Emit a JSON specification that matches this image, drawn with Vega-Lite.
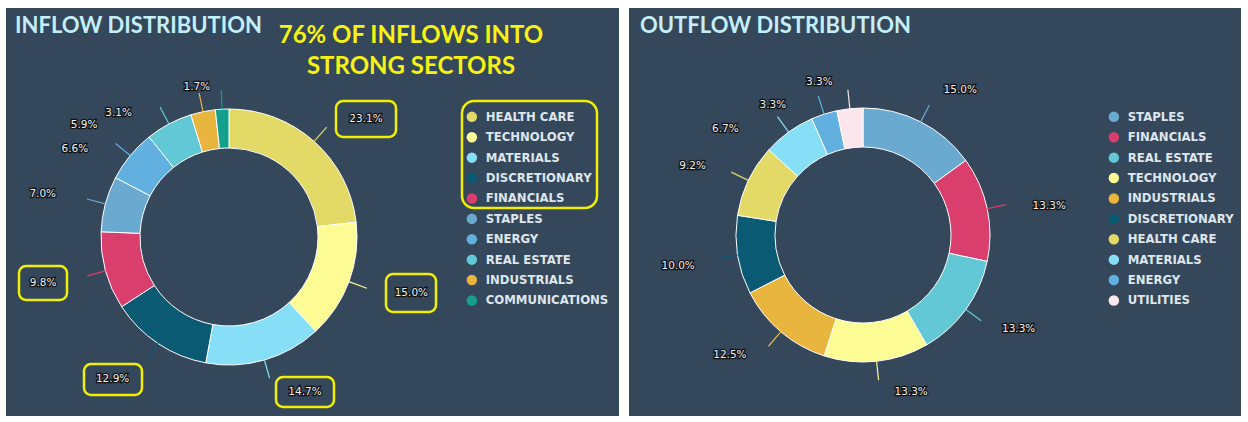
{
  "$schema": "https://vega.github.io/schema/vega-lite/v6.json",
  "background": "#ffffff",
  "padding": {"left": 6, "top": 8, "right": 0, "bottom": 0},
  "spacing": 10,
  "config": {"view": {"stroke": null}},
  "resolve": {"scale": {"color": "independent", "stroke": "independent", "theta": "independent"}, "legend": {"color": "independent"}},
  "hconcat": [
    {
      "width": 613,
      "height": 408,
      "data": {"values": [
        {"sector": "HEALTH CARE", "share": 0.231, "i": 1},
        {"sector": "TECHNOLOGY", "share": 0.150, "i": 2},
        {"sector": "MATERIALS", "share": 0.147, "i": 3},
        {"sector": "DISCRETIONARY", "share": 0.129, "i": 4},
        {"sector": "FINANCIALS", "share": 0.098, "i": 5},
        {"sector": "STAPLES", "share": 0.070, "i": 6},
        {"sector": "ENERGY", "share": 0.066, "i": 7},
        {"sector": "REAL ESTATE", "share": 0.059, "i": 8},
        {"sector": "INDUSTRIALS", "share": 0.031, "i": 9},
        {"sector": "COMMUNICATIONS", "share": 0.017, "i": 10}
      ]},
      "layer": [
        {
          "data": {"values": [{"panel": "inflow"}]},
          "mark": {"type": "rect", "color": "#34475b"},
          "encoding": {"x": {"value": 0}, "x2": {"value": "width"}, "y": {"value": 0}, "y2": {"value": "height"}}
        },
        {
          "mark": {"type": "arc", "outerRadius": 128, "innerRadius": 89, "x": 223, "y": 229, "stroke": "#ffffff", "strokeWidth": 1},
          "encoding": {
            "theta": {"field": "share", "type": "quantitative", "stack": true},
            "order": {"field": "i", "type": "quantitative"},
            "color": {
              "field": "sector", "type": "nominal",
              "scale": {
                "domain": ["HEALTH CARE", "TECHNOLOGY", "MATERIALS", "DISCRETIONARY", "FINANCIALS", "STAPLES", "ENERGY", "REAL ESTATE", "INDUSTRIALS", "COMMUNICATIONS"],
                "range": ["#e2d966", "#fdfb94", "#86dff6", "#0a5a74", "#d93e6c", "#6aaad0", "#62b0df", "#62c8d6", "#e8b53e", "#14a08d"]
              },
              "legend": {"orient": "none", "legendX": 460, "legendY": 103, "title": null, "symbolType": "circle", "symbolSize": 110, "symbolStrokeWidth": 0, "labelColor": "#dfe5ec", "labelFont": "DejaVu Sans", "labelFontSize": 11.7, "labelFontWeight": "bold", "rowPadding": 7.4, "labelOffset": 8}
            }
          }
        },
        {
          "mark": {"type": "arc", "fill": null, "padAngle": 3, "innerRadius": 128, "outerRadius": 147, "x": 223, "y": 229, "strokeWidth": 1.2},
          "encoding": {
            "theta": {"field": "share", "type": "quantitative", "stack": true},
            "order": {"field": "i", "type": "quantitative"},
            "stroke": {
              "field": "sector", "type": "nominal", "legend": null,
              "scale": {
                "domain": ["HEALTH CARE", "TECHNOLOGY", "MATERIALS", "DISCRETIONARY", "FINANCIALS", "STAPLES", "ENERGY", "REAL ESTATE", "INDUSTRIALS", "COMMUNICATIONS"],
                "range": ["#e2d966", "#fdfb94", "#86dff6", "#0a5a74", "#d93e6c", "#6aaad0", "#62b0df", "#62c8d6", "#e8b53e", "#14a08d"]
              }
            }
          }
        },
        {
          "data": {"values": [{"note": "HEALTH CARE"}]},
          "mark": {"type": "rect", "x": 330, "x2": 390, "y": 93, "y2": 129, "fillOpacity": 0, "stroke": "#f2ef00", "strokeWidth": 2.5, "cornerRadius": 7},
          "encoding": {}
        },
        {
          "data": {"values": [{"note": "TECHNOLOGY"}]},
          "mark": {"type": "rect", "x": 380, "x2": 430, "y": 266, "y2": 304, "fillOpacity": 0, "stroke": "#f2ef00", "strokeWidth": 2.5, "cornerRadius": 7},
          "encoding": {}
        },
        {
          "data": {"values": [{"note": "MATERIALS"}]},
          "mark": {"type": "rect", "x": 270, "x2": 328, "y": 369, "y2": 399, "fillOpacity": 0, "stroke": "#f2ef00", "strokeWidth": 2.5, "cornerRadius": 7},
          "encoding": {}
        },
        {
          "data": {"values": [{"note": "DISCRETIONARY"}]},
          "mark": {"type": "rect", "x": 78, "x2": 136, "y": 356, "y2": 387, "fillOpacity": 0, "stroke": "#f2ef00", "strokeWidth": 2.5, "cornerRadius": 7},
          "encoding": {}
        },
        {
          "data": {"values": [{"note": "FINANCIALS"}]},
          "mark": {"type": "rect", "x": 13, "x2": 61, "y": 258, "y2": 292, "fillOpacity": 0, "stroke": "#f2ef00", "strokeWidth": 2.5, "cornerRadius": 7},
          "encoding": {}
        },
        {
          "data": {"values": [{"note": "legend box"}]},
          "mark": {"type": "rect", "x": 456, "x2": 591, "y": 93, "y2": 200, "fillOpacity": 0, "stroke": "#f2ef00", "strokeWidth": 2.5, "cornerRadius": 12},
          "encoding": {}
        },
        {
          "data": {"values": [{"note": "headline"}]},
          "mark": {"type": "text", "x": 405, "y": 35, "text": ["76% OF INFLOWS INTO", "STRONG SECTORS"], "lineHeight": 31, "align": "center", "baseline": "alphabetic", "font": "Lato", "fontSize": 24, "fontWeight": "bold", "color": "#f7f214"},
          "encoding": {}
        },
        {
          "data": {"values": [{"note": "title"}]},
          "mark": {"type": "text", "x": 9, "y": 25, "text": "INFLOW DISTRIBUTION", "align": "left", "baseline": "alphabetic", "font": "Lato", "fontSize": 22, "fontWeight": "bold", "color": "#c4eefa"},
          "encoding": {}
        },
        {
          "mark": {"type": "text", "clip": true, "radius": 170, "x": 223, "y": 229, "dx": 24, "dy": 9, "fontSize": 10.5, "font": "DejaVu Sans", "baseline": "middle", "align": "center", "stroke": "#111111", "strokeWidth": 2.5, "color": "#111111"},
          "encoding": {
            "theta": {"field": "share", "type": "quantitative", "stack": true},
            "order": {"field": "i", "type": "quantitative"},
            "text": {"condition": {"test": "indexof(['HEALTH CARE'], datum.sector) >= 0", "field": "share", "type": "quantitative", "format": ".1%"}, "value": ""}
          }
        },
        {
          "mark": {"type": "text", "clip": true, "radius": 170, "x": 223, "y": 229, "dx": 24, "dy": 9, "fontSize": 10.5, "font": "DejaVu Sans", "baseline": "middle", "align": "center", "color": "#f0f0f0"},
          "encoding": {
            "theta": {"field": "share", "type": "quantitative", "stack": true},
            "order": {"field": "i", "type": "quantitative"},
            "text": {"condition": {"test": "indexof(['HEALTH CARE'], datum.sector) >= 0", "field": "share", "type": "quantitative", "format": ".1%"}, "value": ""}
          }
        },
        {
          "mark": {"type": "text", "clip": true, "radius": 170, "x": 223, "y": 229, "dx": 23, "dy": -3, "fontSize": 10.5, "font": "DejaVu Sans", "baseline": "middle", "align": "center", "stroke": "#111111", "strokeWidth": 2.5, "color": "#111111"},
          "encoding": {
            "theta": {"field": "share", "type": "quantitative", "stack": true},
            "order": {"field": "i", "type": "quantitative"},
            "text": {"condition": {"test": "indexof(['TECHNOLOGY'], datum.sector) >= 0", "field": "share", "type": "quantitative", "format": ".1%"}, "value": ""}
          }
        },
        {
          "mark": {"type": "text", "clip": true, "radius": 170, "x": 223, "y": 229, "dx": 23, "dy": -3, "fontSize": 10.5, "font": "DejaVu Sans", "baseline": "middle", "align": "center", "color": "#f0f0f0"},
          "encoding": {
            "theta": {"field": "share", "type": "quantitative", "stack": true},
            "order": {"field": "i", "type": "quantitative"},
            "text": {"condition": {"test": "indexof(['TECHNOLOGY'], datum.sector) >= 0", "field": "share", "type": "quantitative", "format": ".1%"}, "value": ""}
          }
        },
        {
          "mark": {"type": "text", "clip": true, "radius": 170, "x": 223, "y": 229, "dx": 29, "dy": -8, "fontSize": 10.5, "font": "DejaVu Sans", "baseline": "middle", "align": "center", "stroke": "#111111", "strokeWidth": 2.5, "color": "#111111"},
          "encoding": {
            "theta": {"field": "share", "type": "quantitative", "stack": true},
            "order": {"field": "i", "type": "quantitative"},
            "text": {"condition": {"test": "indexof(['MATERIALS'], datum.sector) >= 0", "field": "share", "type": "quantitative", "format": ".1%"}, "value": ""}
          }
        },
        {
          "mark": {"type": "text", "clip": true, "radius": 170, "x": 223, "y": 229, "dx": 29, "dy": -8, "fontSize": 10.5, "font": "DejaVu Sans", "baseline": "middle", "align": "center", "color": "#f0f0f0"},
          "encoding": {
            "theta": {"field": "share", "type": "quantitative", "stack": true},
            "order": {"field": "i", "type": "quantitative"},
            "text": {"condition": {"test": "indexof(['MATERIALS'], datum.sector) >= 0", "field": "share", "type": "quantitative", "format": ".1%"}, "value": ""}
          }
        },
        {
          "mark": {"type": "text", "clip": true, "radius": 170, "x": 223, "y": 229, "dx": -22, "dy": 1, "fontSize": 10.5, "font": "DejaVu Sans", "baseline": "middle", "align": "center", "stroke": "#111111", "strokeWidth": 2.5, "color": "#111111"},
          "encoding": {
            "theta": {"field": "share", "type": "quantitative", "stack": true},
            "order": {"field": "i", "type": "quantitative"},
            "text": {"condition": {"test": "indexof(['DISCRETIONARY','FINANCIALS','STAPLES'], datum.sector) >= 0", "field": "share", "type": "quantitative", "format": ".1%"}, "value": ""}
          }
        },
        {
          "mark": {"type": "text", "clip": true, "radius": 170, "x": 223, "y": 229, "dx": -22, "dy": 1, "fontSize": 10.5, "font": "DejaVu Sans", "baseline": "middle", "align": "center", "color": "#f0f0f0"},
          "encoding": {
            "theta": {"field": "share", "type": "quantitative", "stack": true},
            "order": {"field": "i", "type": "quantitative"},
            "text": {"condition": {"test": "indexof(['DISCRETIONARY','FINANCIALS','STAPLES'], datum.sector) >= 0", "field": "share", "type": "quantitative", "format": ".1%"}, "value": ""}
          }
        },
        {
          "mark": {"type": "text", "clip": true, "radius": 170, "x": 223, "y": 229, "dx": -23, "dy": 20, "fontSize": 10.5, "font": "DejaVu Sans", "baseline": "middle", "align": "center", "stroke": "#111111", "strokeWidth": 2.5, "color": "#111111"},
          "encoding": {
            "theta": {"field": "share", "type": "quantitative", "stack": true},
            "order": {"field": "i", "type": "quantitative"},
            "text": {"condition": {"test": "indexof(['ENERGY','COMMUNICATIONS'], datum.sector) >= 0", "field": "share", "type": "quantitative", "format": ".1%"}, "value": ""}
          }
        },
        {
          "mark": {"type": "text", "clip": true, "radius": 170, "x": 223, "y": 229, "dx": -23, "dy": 20, "fontSize": 10.5, "font": "DejaVu Sans", "baseline": "middle", "align": "center", "color": "#f0f0f0"},
          "encoding": {
            "theta": {"field": "share", "type": "quantitative", "stack": true},
            "order": {"field": "i", "type": "quantitative"},
            "text": {"condition": {"test": "indexof(['ENERGY','COMMUNICATIONS'], datum.sector) >= 0", "field": "share", "type": "quantitative", "format": ".1%"}, "value": ""}
          }
        },
        {
          "mark": {"type": "text", "clip": true, "radius": 130, "x": 223, "y": 229, "dx": -84, "dy": 3, "fontSize": 10.5, "font": "DejaVu Sans", "baseline": "middle", "align": "center", "stroke": "#111111", "strokeWidth": 2.5, "color": "#111111"},
          "encoding": {
            "theta": {"field": "share", "type": "quantitative", "stack": true},
            "order": {"field": "i", "type": "quantitative"},
            "text": {"condition": {"test": "indexof(['REAL ESTATE','INDUSTRIALS'], datum.sector) >= 0", "field": "share", "type": "quantitative", "format": ".1%"}, "value": ""}
          }
        },
        {
          "mark": {"type": "text", "clip": true, "radius": 130, "x": 223, "y": 229, "dx": -84, "dy": 3, "fontSize": 10.5, "font": "DejaVu Sans", "baseline": "middle", "align": "center", "color": "#f0f0f0"},
          "encoding": {
            "theta": {"field": "share", "type": "quantitative", "stack": true},
            "order": {"field": "i", "type": "quantitative"},
            "text": {"condition": {"test": "indexof(['REAL ESTATE','INDUSTRIALS'], datum.sector) >= 0", "field": "share", "type": "quantitative", "format": ".1%"}, "value": ""}
          }
        }
      ]
    },
    {
      "width": 612,
      "height": 408,
      "data": {"values": [
        {"sector": "STAPLES", "share": 0.150, "i": 1},
        {"sector": "FINANCIALS", "share": 0.133, "i": 2},
        {"sector": "REAL ESTATE", "share": 0.133, "i": 3},
        {"sector": "TECHNOLOGY", "share": 0.133, "i": 4},
        {"sector": "INDUSTRIALS", "share": 0.125, "i": 5},
        {"sector": "DISCRETIONARY", "share": 0.100, "i": 6},
        {"sector": "HEALTH CARE", "share": 0.092, "i": 7},
        {"sector": "MATERIALS", "share": 0.067, "i": 8},
        {"sector": "ENERGY", "share": 0.033, "i": 9},
        {"sector": "UTILITIES", "share": 0.033, "i": 10}
      ]},
      "layer": [
        {
          "data": {"values": [{"panel": "outflow"}]},
          "mark": {"type": "rect", "color": "#34475b"},
          "encoding": {"x": {"value": 0}, "x2": {"value": "width"}, "y": {"value": 0}, "y2": {"value": "height"}}
        },
        {
          "mark": {"type": "arc", "outerRadius": 127, "innerRadius": 88, "x": 234, "y": 227, "stroke": "#ffffff", "strokeWidth": 1},
          "encoding": {
            "theta": {"field": "share", "type": "quantitative", "stack": true},
            "order": {"field": "i", "type": "quantitative"},
            "color": {
              "field": "sector", "type": "nominal",
              "scale": {
                "domain": ["STAPLES", "FINANCIALS", "REAL ESTATE", "TECHNOLOGY", "INDUSTRIALS", "DISCRETIONARY", "HEALTH CARE", "MATERIALS", "ENERGY", "UTILITIES"],
                "range": ["#6aaad0", "#d93e6c", "#62c8d6", "#fdfb94", "#e8b53e", "#0a5a74", "#e2d966", "#86dff6", "#62b0df", "#fae6ec"]
              },
              "legend": {"orient": "none", "legendX": 479, "legendY": 103, "title": null, "symbolType": "circle", "symbolSize": 110, "symbolStrokeWidth": 0, "labelColor": "#dfe5ec", "labelFont": "DejaVu Sans", "labelFontSize": 11.7, "labelFontWeight": "bold", "rowPadding": 7.4, "labelOffset": 8}
            }
          }
        },
        {
          "mark": {"type": "arc", "fill": null, "padAngle": 3, "innerRadius": 127, "outerRadius": 146, "x": 234, "y": 227, "strokeWidth": 1.2},
          "encoding": {
            "theta": {"field": "share", "type": "quantitative", "stack": true},
            "order": {"field": "i", "type": "quantitative"},
            "stroke": {
              "field": "sector", "type": "nominal", "legend": null,
              "scale": {
                "domain": ["STAPLES", "FINANCIALS", "REAL ESTATE", "TECHNOLOGY", "INDUSTRIALS", "DISCRETIONARY", "HEALTH CARE", "MATERIALS", "ENERGY", "UTILITIES"],
                "range": ["#6aaad0", "#d93e6c", "#62c8d6", "#fdfb94", "#e8b53e", "#0a5a74", "#e2d966", "#86dff6", "#62b0df", "#fae6ec"]
              }
            }
          }
        },
        {
          "data": {"values": [{"note": "title"}]},
          "mark": {"type": "text", "x": 11, "y": 25, "text": "OUTFLOW DISTRIBUTION", "align": "left", "baseline": "alphabetic", "font": "Lato", "fontSize": 22, "fontWeight": "bold", "color": "#c4eefa"},
          "encoding": {}
        },
        {
          "mark": {"type": "text", "clip": true, "radius": 170, "x": 234, "y": 227, "dx": 20, "dy": 6, "fontSize": 10.5, "font": "DejaVu Sans", "baseline": "middle", "align": "center", "stroke": "#111111", "strokeWidth": 2.5, "color": "#111111"},
          "encoding": {
            "theta": {"field": "share", "type": "quantitative", "stack": true},
            "order": {"field": "i", "type": "quantitative"},
            "text": {"condition": {"test": "indexof(['STAPLES','FINANCIALS'], datum.sector) >= 0", "field": "share", "type": "quantitative", "format": ".1%"}, "value": ""}
          }
        },
        {
          "mark": {"type": "text", "clip": true, "radius": 170, "x": 234, "y": 227, "dx": 20, "dy": 6, "fontSize": 10.5, "font": "DejaVu Sans", "baseline": "middle", "align": "center", "color": "#f0f0f0"},
          "encoding": {
            "theta": {"field": "share", "type": "quantitative", "stack": true},
            "order": {"field": "i", "type": "quantitative"},
            "text": {"condition": {"test": "indexof(['STAPLES','FINANCIALS'], datum.sector) >= 0", "field": "share", "type": "quantitative", "format": ".1%"}, "value": ""}
          }
        },
        {
          "mark": {"type": "text", "clip": true, "radius": 170, "x": 234, "y": 227, "dx": 18, "dy": -6, "fontSize": 10.5, "font": "DejaVu Sans", "baseline": "middle", "align": "center", "stroke": "#111111", "strokeWidth": 2.5, "color": "#111111"},
          "encoding": {
            "theta": {"field": "share", "type": "quantitative", "stack": true},
            "order": {"field": "i", "type": "quantitative"},
            "text": {"condition": {"test": "indexof(['REAL ESTATE'], datum.sector) >= 0", "field": "share", "type": "quantitative", "format": ".1%"}, "value": ""}
          }
        },
        {
          "mark": {"type": "text", "clip": true, "radius": 170, "x": 234, "y": 227, "dx": 18, "dy": -6, "fontSize": 10.5, "font": "DejaVu Sans", "baseline": "middle", "align": "center", "color": "#f0f0f0"},
          "encoding": {
            "theta": {"field": "share", "type": "quantitative", "stack": true},
            "order": {"field": "i", "type": "quantitative"},
            "text": {"condition": {"test": "indexof(['REAL ESTATE'], datum.sector) >= 0", "field": "share", "type": "quantitative", "format": ".1%"}, "value": ""}
          }
        },
        {
          "mark": {"type": "text", "clip": true, "radius": 170, "x": 234, "y": 227, "dx": 30, "dy": -12, "fontSize": 10.5, "font": "DejaVu Sans", "baseline": "middle", "align": "center", "stroke": "#111111", "strokeWidth": 2.5, "color": "#111111"},
          "encoding": {
            "theta": {"field": "share", "type": "quantitative", "stack": true},
            "order": {"field": "i", "type": "quantitative"},
            "text": {"condition": {"test": "indexof(['TECHNOLOGY'], datum.sector) >= 0", "field": "share", "type": "quantitative", "format": ".1%"}, "value": ""}
          }
        },
        {
          "mark": {"type": "text", "clip": true, "radius": 170, "x": 234, "y": 227, "dx": 30, "dy": -12, "fontSize": 10.5, "font": "DejaVu Sans", "baseline": "middle", "align": "center", "color": "#f0f0f0"},
          "encoding": {
            "theta": {"field": "share", "type": "quantitative", "stack": true},
            "order": {"field": "i", "type": "quantitative"},
            "text": {"condition": {"test": "indexof(['TECHNOLOGY'], datum.sector) >= 0", "field": "share", "type": "quantitative", "format": ".1%"}, "value": ""}
          }
        },
        {
          "mark": {"type": "text", "clip": true, "radius": 170, "x": 234, "y": 227, "dx": -23, "dy": -10, "fontSize": 10.5, "font": "DejaVu Sans", "baseline": "middle", "align": "center", "stroke": "#111111", "strokeWidth": 2.5, "color": "#111111"},
          "encoding": {
            "theta": {"field": "share", "type": "quantitative", "stack": true},
            "order": {"field": "i", "type": "quantitative"},
            "text": {"condition": {"test": "indexof(['INDUSTRIALS'], datum.sector) >= 0", "field": "share", "type": "quantitative", "format": ".1%"}, "value": ""}
          }
        },
        {
          "mark": {"type": "text", "clip": true, "radius": 170, "x": 234, "y": 227, "dx": -23, "dy": -10, "fontSize": 10.5, "font": "DejaVu Sans", "baseline": "middle", "align": "center", "color": "#f0f0f0"},
          "encoding": {
            "theta": {"field": "share", "type": "quantitative", "stack": true},
            "order": {"field": "i", "type": "quantitative"},
            "text": {"condition": {"test": "indexof(['INDUSTRIALS'], datum.sector) >= 0", "field": "share", "type": "quantitative", "format": ".1%"}, "value": ""}
          }
        },
        {
          "mark": {"type": "text", "clip": true, "radius": 170, "x": 234, "y": 227, "dx": -17, "dy": 4, "fontSize": 10.5, "font": "DejaVu Sans", "baseline": "middle", "align": "center", "stroke": "#111111", "strokeWidth": 2.5, "color": "#111111"},
          "encoding": {
            "theta": {"field": "share", "type": "quantitative", "stack": true},
            "order": {"field": "i", "type": "quantitative"},
            "text": {"condition": {"test": "indexof(['DISCRETIONARY','HEALTH CARE'], datum.sector) >= 0", "field": "share", "type": "quantitative", "format": ".1%"}, "value": ""}
          }
        },
        {
          "mark": {"type": "text", "clip": true, "radius": 170, "x": 234, "y": 227, "dx": -17, "dy": 4, "fontSize": 10.5, "font": "DejaVu Sans", "baseline": "middle", "align": "center", "color": "#f0f0f0"},
          "encoding": {
            "theta": {"field": "share", "type": "quantitative", "stack": true},
            "order": {"field": "i", "type": "quantitative"},
            "text": {"condition": {"test": "indexof(['DISCRETIONARY','HEALTH CARE'], datum.sector) >= 0", "field": "share", "type": "quantitative", "format": ".1%"}, "value": ""}
          }
        },
        {
          "mark": {"type": "text", "clip": true, "radius": 170, "x": 234, "y": 227, "dx": -38, "dy": 32, "fontSize": 10.5, "font": "DejaVu Sans", "baseline": "middle", "align": "center", "stroke": "#111111", "strokeWidth": 2.5, "color": "#111111"},
          "encoding": {
            "theta": {"field": "share", "type": "quantitative", "stack": true},
            "order": {"field": "i", "type": "quantitative"},
            "text": {"condition": {"test": "indexof(['MATERIALS','ENERGY'], datum.sector) >= 0", "field": "share", "type": "quantitative", "format": ".1%"}, "value": ""}
          }
        },
        {
          "mark": {"type": "text", "clip": true, "radius": 170, "x": 234, "y": 227, "dx": -38, "dy": 32, "fontSize": 10.5, "font": "DejaVu Sans", "baseline": "middle", "align": "center", "color": "#f0f0f0"},
          "encoding": {
            "theta": {"field": "share", "type": "quantitative", "stack": true},
            "order": {"field": "i", "type": "quantitative"},
            "text": {"condition": {"test": "indexof(['MATERIALS','ENERGY'], datum.sector) >= 0", "field": "share", "type": "quantitative", "format": ".1%"}, "value": ""}
          }
        },
        {
          "mark": {"type": "text", "clip": true, "radius": 170, "x": 234, "y": 227, "dx": -26, "dy": 16, "fontSize": 10.5, "font": "DejaVu Sans", "baseline": "middle", "align": "center", "stroke": "#111111", "strokeWidth": 2.5, "color": "#111111"},
          "encoding": {
            "theta": {"field": "share", "type": "quantitative", "stack": true},
            "order": {"field": "i", "type": "quantitative"},
            "text": {"condition": {"test": "indexof(['UTILITIES'], datum.sector) >= 0", "field": "share", "type": "quantitative", "format": ".1%"}, "value": ""}
          }
        },
        {
          "mark": {"type": "text", "clip": true, "radius": 170, "x": 234, "y": 227, "dx": -26, "dy": 16, "fontSize": 10.5, "font": "DejaVu Sans", "baseline": "middle", "align": "center", "color": "#f0f0f0"},
          "encoding": {
            "theta": {"field": "share", "type": "quantitative", "stack": true},
            "order": {"field": "i", "type": "quantitative"},
            "text": {"condition": {"test": "indexof(['UTILITIES'], datum.sector) >= 0", "field": "share", "type": "quantitative", "format": ".1%"}, "value": ""}
          }
        }
      ]
    }
  ]
}
